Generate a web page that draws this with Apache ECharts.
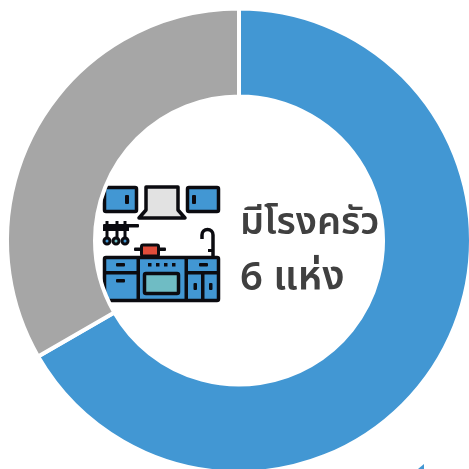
<!DOCTYPE html>
<html>
<head>
<meta charset="utf-8">
<style>html,body{margin:0;padding:0;background:#fff}#c{width:469px;height:469px}</style>
<script src="https://cdn.jsdelivr.net/npm/echarts@6/dist/echarts.min.js"></script>
</head>
<body>
<div id="c"></div>
<script>
const categories = ['มีโรงครัว', 'อื่น ๆ'];
const values = [4, 2];
const colors = ['#4297d3', '#a6a6a6'];
const centerLines = ['มีโรงครัว', '6 แห่ง'];

const K = '#0b0b10', B = '#4297d3';
function r(x, y, w, h, fill, lw, rad) {
  return { type: 'rect', shape: { x, y, width: w, height: h, r: rad === undefined ? 1.5 : rad },
    style: { fill: fill, stroke: lw ? K : null, lineWidth: lw || 0 } };
}
function c(cx, cy, rr, fill) {
  return { type: 'circle', shape: { cx, cy, r: rr }, style: { fill: fill, stroke: K, lineWidth: 3 } };
}
function line(pts, w) {
  return { type: 'polyline', shape: { points: pts }, style: { stroke: K, lineWidth: w || 3, fill: null, lineJoin: 'round' } };
}
const icon = [
  r(104.5, 187.5, 32, 24, B, 3.5),
  r(125, 195, 4, 9, K, 0, 1),
  r(187.5, 187.5, 31, 24, B, 3.5),
  r(192, 195, 4, 9, K, 0, 1),
  { type: 'polygon', shape: { points: [[146, 187], [178, 187], [178, 210], [185, 218], [139, 218], [146, 210]] },
    style: { fill: '#e2e2e2', stroke: K, lineWidth: 3.5, lineJoin: 'round' } },
  r(103, 224, 36, 3.5, K, 0, 1),
  line([[107, 221], [107, 238]], 3), line([[117, 221], [117, 238]], 3), line([[125, 221], [125, 238]], 3),
  r(103, 227, 26, 4, K, 0, 0),
  c(107, 241, 3, B), c(116, 241, 3, '#6fbcc4'), c(125, 241, 3, B),
  { type: 'arc', shape: { cx: 207.5, cy: 235, r: 5.5, startAngle: Math.PI, endAngle: 0, clockwise: true },
    style: { stroke: K, lineWidth: 3.5, fill: null } },
  line([[202, 235], [202, 239]], 3.5),
  line([[213, 235], [213, 257]], 3.5),
  r(208, 249, 4, 3, K, 0, 0),
  r(134, 247.5, 7, 3.5, K, 0, 1), r(159, 247.5, 7, 3.5, K, 0, 1),
  r(141.5, 245, 17, 11, '#de4c3a', 3),
  r(104.5, 257.5, 114, 43, B, 3.5),
  r(104, 271, 34, 3.5, K, 0, 0),
  r(186, 271, 33, 3.5, K, 0, 0),
  r(136.5, 257, 3.5, 44, K, 0, 0),
  r(184.5, 257, 3.5, 44, K, 0, 0),
  r(201, 274, 3.5, 27, K, 0, 0),
  r(116, 263, 9, 3.5, K, 0, 1), r(116, 279, 9, 3.5, K, 0, 1),
  r(199, 263, 9, 3.5, K, 0, 1),
  r(193.5, 283, 3.5, 7, K, 0, 1), r(209, 283, 3.5, 7, K, 0, 1),
  r(148, 263, 3.5, 3.5, K, 0, 0), r(156, 263, 3.5, 3.5, K, 0, 0), r(164, 263, 3.5, 3.5, K, 0, 0), r(172, 263, 3.5, 3.5, K, 0, 0),
  r(144.5, 273.5, 34, 20, '#6fbcc4', 3.5)
];

const chart = echarts.init(document.getElementById('c'), null, { renderer: 'canvas' });
chart.setOption({
  animation: false,
  backgroundColor: '#fff',
  series: [{
    type: 'pie',
    center: [239, 240.5],
    radius: [144, 232],
    startAngle: 90,
    clockwise: true,
    label: { show: false },
    labelLine: { show: false },
    silent: true,
    itemStyle: { borderColor: '#fff', borderWidth: 4 },
    data: categories.map((n, i) => ({ name: n, value: values[i], itemStyle: { color: colors[i] } }))
  }],
  graphic: [
    { type: 'polygon', shape: { points: [[424, 464], [424, 469], [418, 469]] }, style: { fill: B } },
    { type: 'group', children: icon },
    { type: 'text', style: { x: 240, y: 223, text: centerLines[0], fill: '#404040',
      font: '600 38px "Noto Sans", "Noto Sans Thai", Roboto, sans-serif', verticalAlign: 'middle' } },
    { type: 'text', style: { x: 240, y: 279, text: centerLines[1], fill: '#404040',
      font: '600 40px "Noto Sans", "Noto Sans Thai", Roboto, sans-serif', verticalAlign: 'middle' } }
  ]
});
</script>
</body>
</html>
